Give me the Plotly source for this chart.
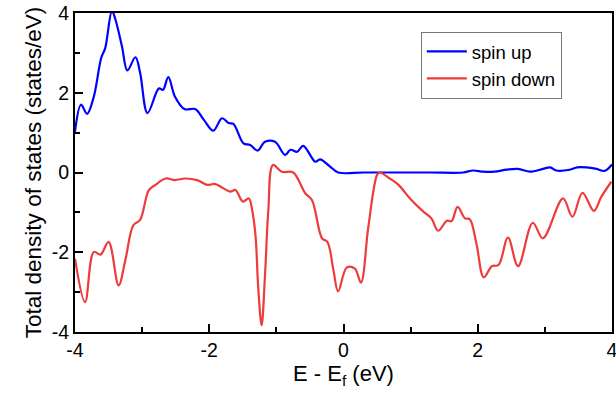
import plotly.graph_objects as go

# spin up (blue)
x_up = [-4.0, -3.91, -3.82, -3.72, -3.61, -3.55, -3.45, -3.40, -3.30, -3.22, -3.10, -3.03,
        -2.92, -2.75, -2.69, -2.61, -2.51, -2.37, -2.21, -2.08, -1.94, -1.81, -1.71, -1.64,
        -1.49, -1.39, -1.28, -1.17, -1.02, -0.87, -0.79, -0.69, -0.60, -0.42, -0.35, -0.20,
        -0.08, 0.3, 0.8, 1.3, 1.78, 1.93, 2.08, 2.25, 2.43, 2.60, 2.78, 2.97, 3.08, 3.17,
        3.37, 3.48, 3.62, 3.77, 3.89, 4.0]
y_up = [1.02, 1.70, 1.47, 1.90, 2.87, 3.12, 4.05, 3.85, 3.16, 2.56, 2.89, 2.50,
        1.49, 2.11, 2.07, 2.39, 1.90, 1.59, 1.59, 1.32, 1.05, 1.36, 1.24, 1.22,
        0.73, 0.69, 0.55, 0.77, 0.77, 0.44, 0.57, 0.52, 0.67, 0.27, 0.33, 0.15,
        0.0, 0.0, 0.0, 0.0, 0.0, 0.05, 0.02, 0.02, 0.07, 0.09, 0.02, 0.09, 0.13, 0.05,
        0.07, 0.13, 0.13, 0.09, 0.04, 0.20]

# spin down (red)
x_dn = [-4.0, -3.85, -3.72, -3.62, -3.50, -3.35, -3.25, -3.13, -3.03, -2.90, -2.80, -2.65,
        -2.51, -2.36, -2.18, -2.03, -1.91, -1.69, -1.61, -1.50, -1.41, -1.36, -1.31, -1.27,
        -1.22, -1.17, -1.12, -1.05, -0.92, -0.75, -0.57, -0.47, -0.32, -0.24, -0.15, -0.08,
        0.05, 0.17, 0.26, 0.37, 0.50, 0.54, 0.69, 0.82, 0.99, 1.19, 1.31, 1.41, 1.54, 1.61,
        1.70, 1.81, 1.88, 1.98, 2.09, 2.21, 2.31, 2.45, 2.60, 2.82, 2.97, 3.27, 3.41, 3.56,
        3.73, 3.84, 3.99]
y_dn = [-2.16, -3.25, -1.99, -2.06, -1.74, -2.83, -2.20, -1.32, -1.19, -0.44, -0.31, -0.15,
        -0.19, -0.15, -0.19, -0.31, -0.29, -0.48, -0.44, -0.73, -0.65, -0.95, -1.6, -2.9,
        -3.83, -2.6, -0.95, 0.19, 0.02, 0.0, -0.52, -0.69, -1.65, -1.74, -2.45, -2.98,
        -2.38, -2.41, -2.76, -1.36, -0.06, 0.0, -0.15, -0.31, -0.65, -0.98, -1.15, -1.46, -1.21, -1.22,
        -0.86, -1.15, -1.17, -1.78, -2.63, -2.35, -2.32, -1.63, -2.35, -1.26, -1.65, -0.65, -1.11, -0.51,
        -0.96, -0.61, -0.23]

x_ticks = [-4, -2, 0, 2, 4]
y_ticks = [-4, -2, 0, 2, 4]

FONT = "Liberation Sans, Arial, sans-serif"

fig = go.Figure()
fig.add_trace(go.Scatter(x=x_up, y=y_up, mode="lines", name="spin up",
                         line=dict(color="#0000ff", width=2.2, shape="spline", smoothing=1.0)))
fig.add_trace(go.Scatter(x=x_dn, y=y_dn, mode="lines", name="spin down",
                         line=dict(color="#ee3b3b", width=2.2, shape="spline", smoothing=1.0)))

axis_common = dict(showline=True, linecolor="black", linewidth=2, mirror=True, automargin=False,
                   showgrid=False, zeroline=False, ticks="inside", ticklen=8, tickwidth=2,
                   tickcolor="black", tickfont=dict(family=FONT, size=19.5, color="black"),
                   ticklabeloverflow="allow",
                   minor=dict(ticks="inside", ticklen=5, tickwidth=1.5, tickcolor="black", dtick=1))

fig.update_xaxes(range=[-4, 4], tickvals=x_ticks, ticktext=[str(v) for v in x_ticks],
                 title=dict(text="E - E<sub>f</sub> (eV)", font=dict(family=FONT, size=22, color="black"),
                            standoff=2),
                 **axis_common)
fig.update_yaxes(range=[-4, 4], tickvals=y_ticks, ticktext=[str(v) for v in y_ticks],
                 title=dict(text="Total density of states (states/eV)",
                            font=dict(family=FONT, size=22.5, color="black"), standoff=4),
                 **axis_common)

fig.update_layout(
    width=616, height=396,
    margin=dict(l=75, r=4, t=13, b=64),
    plot_bgcolor="white", paper_bgcolor="white",
    font=dict(family=FONT, color="black"),
    showlegend=True,
    legend=dict(x=0.644, y=0.941, xanchor="left", yanchor="top",
                bordercolor="#777777", borderwidth=1, bgcolor="white",
                font=dict(family=FONT, size=18.5, color="black"),
                tracegroupgap=0, itemwidth=40),
)

fig.write_html("out.html")
